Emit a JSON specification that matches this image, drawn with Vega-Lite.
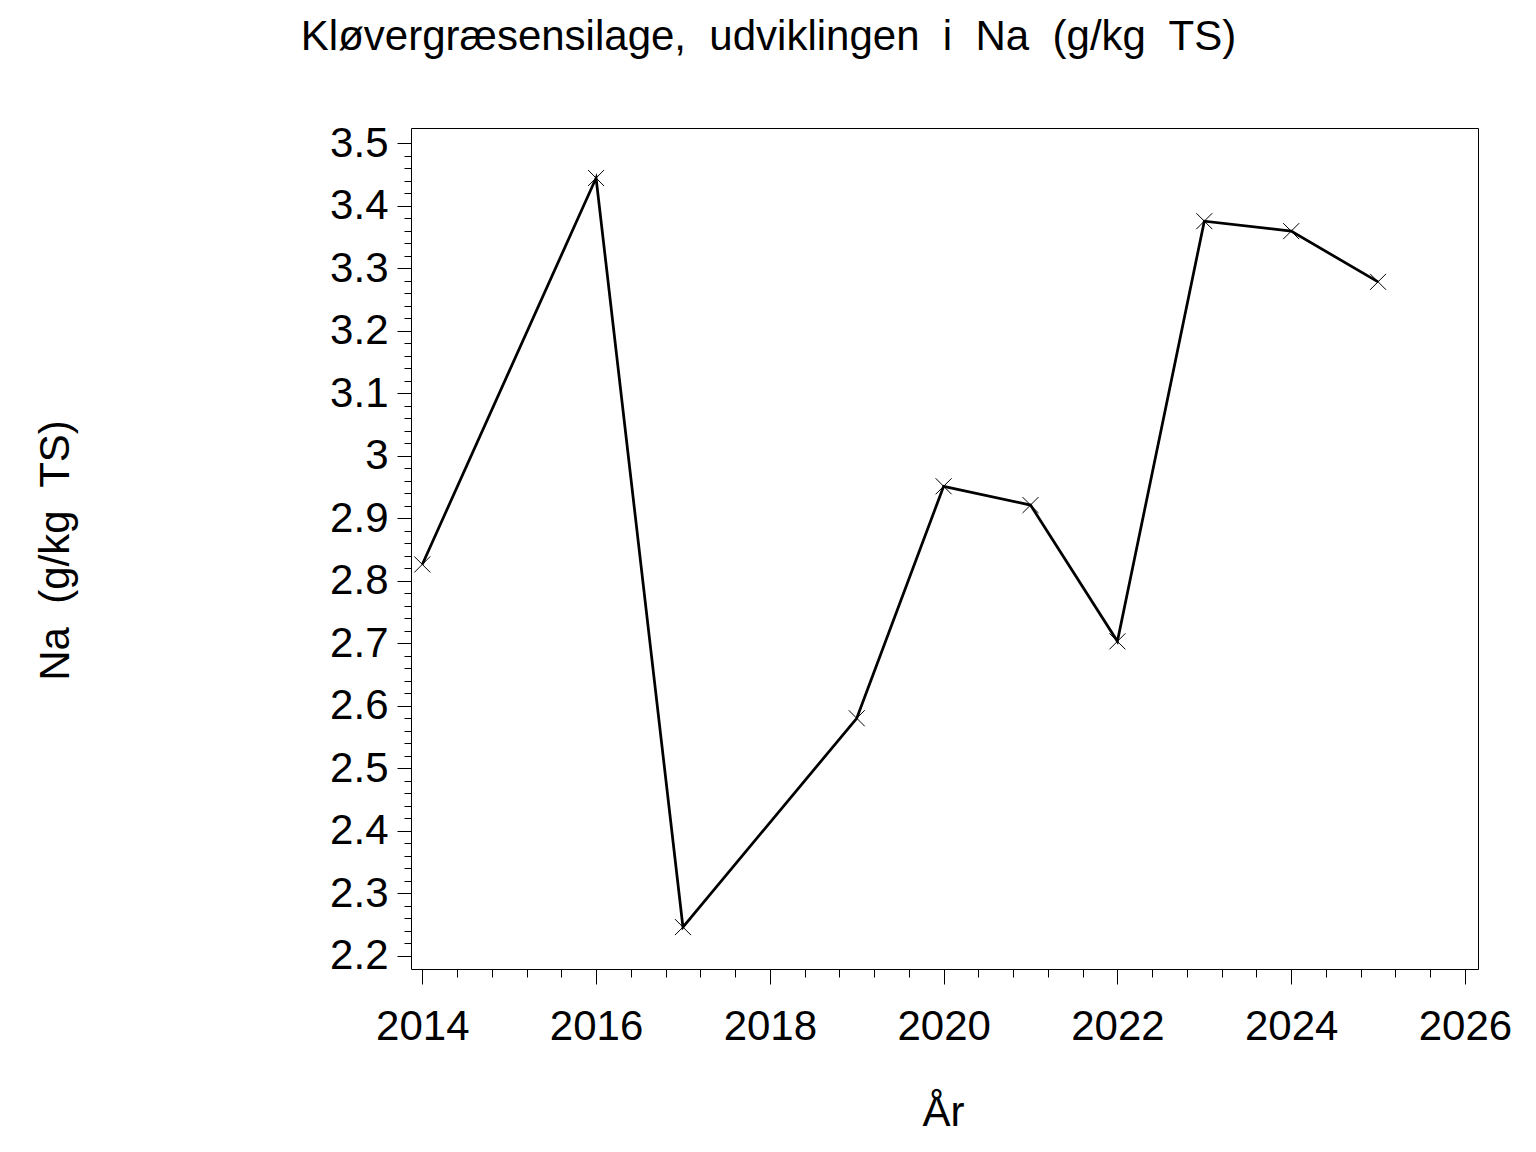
{
  "$schema": "https://vega.github.io/schema/vega-lite/v6.json",
  "width": 1067,
  "height": 841,
  "autosize": {"type": "none"},
  "padding": {"left": 411, "top": 128, "right": 58, "bottom": 183},
  "background": "white",
  "title": {
    "text": "Kløvergræsensilage,\u00a0 udviklingen\u00a0 i\u00a0 Na\u00a0 (g/kg\u00a0 TS)",
    "font": "Liberation Sans",
    "fontSize": 42,
    "fontWeight": "normal",
    "color": "black",
    "anchor": "middle",
    "frame": "group",
    "dx": -176,
    "baseline": "alphabetic",
    "offset": 30
  },
  "config": {
    "view": {"stroke": "black", "strokeWidth": 1},
    "axis": {
      "labelFont": "Liberation Sans",
      "labelFontSize": 42,
      "labelColor": "black",
      "titleFont": "Liberation Sans",
      "titleFontSize": 42,
      "titleFontWeight": "normal",
      "titleColor": "black",
      "tickColor": "black",
      "tickWidth": 1,
      "domain": false,
      "grid": false
    }
  },
  "data": {
    "values": [
      {"year": 2014, "na": 2.826},
      {"year": 2016, "na": 3.444},
      {"year": 2017, "na": 2.246},
      {"year": 2019, "na": 2.58},
      {"year": 2020, "na": 2.951},
      {"year": 2021, "na": 2.921},
      {"year": 2022, "na": 2.703},
      {"year": 2023, "na": 3.375},
      {"year": 2024, "na": 3.359},
      {"year": 2025, "na": 3.278}
    ]
  },
  "encoding": {
    "x": {
      "field": "year",
      "type": "quantitative",
      "scale": {"domain": [2013.87, 2026.15], "nice": false, "zero": false},
      "axis": {
        "title": "År",
        "values": [2014,2014.4,2014.8,2015.2,2015.6,2016,2016.4,2016.8,2017.2,2017.6,2018,2018.4,2018.8,2019.2,2019.6,2020,2020.4,2020.8,2021.2,2021.6,2022,2022.4,2022.8,2023.2,2023.6,2024,2024.4,2024.8,2025.2,2025.6,2026],
        "tickSize": {"condition": {"test": "abs(datum.value/2 - round(datum.value/2)) < 0.001", "value": 15}, "value": 8},
        "labelExpr": "abs(datum.value/2 - round(datum.value/2)) < 0.001 ? format(datum.value, 'd') : ''",
        "labelPadding": 22,
        "labelOverlap": false,
        "labelFlush": false,
        "titleX": 532,
        "titleY": 156,
        "titleBaseline": "alphabetic",
        "titleAnchor": null
      }
    },
    "y": {
      "field": "na",
      "type": "quantitative",
      "scale": {"domain": [2.179, 3.524], "nice": false, "zero": false},
      "axis": {
        "title": "Na\u00a0 (g/kg\u00a0 TS)",
        "values": [2.2,2.22,2.24,2.26,2.28,2.3,2.32,2.34,2.36,2.38,2.4,2.42,2.44,2.46,2.48,2.5,2.52,2.54,2.56,2.58,2.6,2.62,2.64,2.66,2.68,2.7,2.72,2.74,2.76,2.78,2.8,2.82,2.84,2.86,2.88,2.9,2.92,2.94,2.96,2.98,3,3.02,3.04,3.06,3.08,3.1,3.12,3.14,3.16,3.18,3.2,3.22,3.24,3.26,3.28,3.3,3.32,3.34,3.36,3.38,3.4,3.42,3.44,3.46,3.48,3.5],
        "tickSize": {"condition": {"test": "abs(datum.value*10 - round(datum.value*10)) < 0.001", "value": 14}, "value": 7},
        "labelExpr": "abs(datum.value*10 - round(datum.value*10)) < 0.001 ? format(datum.value, '.1~f') : ''",
        "labelPadding": 9,
        "labelOverlap": false,
        "labelFlush": false,
        "titleX": -356,
        "titleY": 422,
        "titleAngle": -90,
        "titleBaseline": "middle",
        "titleAlign": "center",
        "titleAnchor": null
      }
    }
  },
  "layer": [
    {"mark": {"type": "line", "color": "black", "strokeWidth": 2.75}},
    {"mark": {"type": "point", "shape": "M-1,-1L1,1M-1,1L1,-1", "size": 256, "filled": false, "stroke": "black", "strokeWidth": 1, "opacity": 1}}
  ]
}
